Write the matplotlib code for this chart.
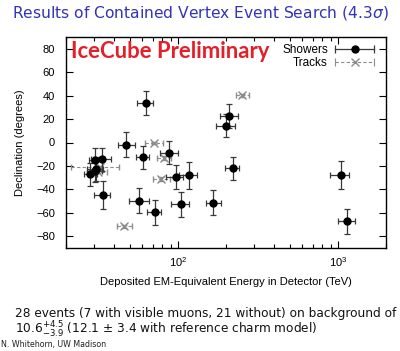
import matplotlib
matplotlib.use("Agg")
import matplotlib.pyplot as plt
from matplotlib.lines import Line2D
from matplotlib.legend_handler import HandlerLine2D, HandlerTuple
from matplotlib.ticker import MultipleLocator

plt.rcParams["font.family"] = ["Liberation Sans", "DejaVu Sans"]
plt.rcParams["mathtext.fontset"] = "dejavusans"

# ---------------------------------------------------------------------------
# Data: deposited energy (TeV) and declination (deg)
# ---------------------------------------------------------------------------
shower_E = [47.6, 117, 165, 28.4, 34.3, 63.2, 97.2, 88.4, 104, 1041, 57.5,
            30.6, 200, 71.5, 1141, 30.2, 220, 30.5, 33.5, 210, 60.2]
shower_E_lo = [5.4, 15, 15, 2.5, 4.3, 8.0, 12.4, 10.7, 13, 144, 7.8,
               3.5, 27, 7.2, 133, 3.3, 24, 2.6, 5.0, 26, 5.6]
shower_E_hi = [6.5, 15, 20, 2.7, 3.5, 7.1, 10.4, 12.5, 13, 132, 8.3,
               3.6, 27, 7.0, 143, 3.5, 21, 3.2, 4.9, 29, 5.6]
shower_dec = [-1.8, -28.0, -51.2, -27.2, -45.1, 33.6, -29.4, -8.9, -52.8, -27.9, -49.7,
              -22.6, 14.5, -59.7, -67.2, -24.0, -22.1, -15.1, -14.5, 22.7, -12.6]
shower_dec_err = [10.5, 11.5, 10.6, 10, 12, 10.5, 10.3, 9.8, 10.9, 12, 10.7,
                  10, 10, 10.7, 10.6, 10, 10, 10, 10, 10.3, 10]

track_E = [78.7, 71.4, 32.6, 253, 31.5, 82.2, 46.1]
track_E_lo = [8.7, 9.0, 11.1, 22, 3.3, 8.4, 4.4]
track_E_hi = [10.8, 9.0, 10.3, 26, 4.6, 8.6, 5.7]
track_dec = [-31.2, -0.4, -21.2, 40.3, -24.8, -13.2, -71.5]
track_dec_err = [1.4, 1.2, 1.3, 1.2, 1.3, 1.9, 1.3]

SHOWER_C = "black"
BAR_C = "#383838"
TRACK_C = "#8c8c8c"

fig = plt.figure(figsize=(4.0, 3.51), dpi=100)
ax = fig.add_axes([66 / 400, 1 - 248 / 351, 320 / 400, 211 / 351])

# tracks (dashed grey)
eb = ax.errorbar(track_E, track_dec,
                 xerr=[track_E_lo, track_E_hi], yerr=track_dec_err,
                 fmt="x", color=TRACK_C, ecolor=TRACK_C, ms=6, mew=1.0,
                 elinewidth=0.8, capsize=2.5, capthick=0.8, zorder=2)
for lc in eb[2]:
    lc.set_linestyle((0, (3, 2)))

# showers
ax.errorbar(shower_E, shower_dec,
            xerr=[shower_E_lo, shower_E_hi], yerr=shower_dec_err,
            fmt="o", color=SHOWER_C, ecolor=BAR_C, ms=5,
            elinewidth=0.9, capsize=2.5, capthick=0.9, zorder=3)

ax.set_xscale("log")
ax.set_xlim(20, 2000)
ax.set_ylim(-90, 90)
ax.yaxis.set_major_locator(MultipleLocator(20))
ax.tick_params(which="both", direction="in", top=True, right=True,
               labelsize=8, width=0.8)
ax.tick_params(which="major", length=5)
ax.tick_params(which="minor", length=3)
ax.tick_params(axis="y", pad=8)
ax.tick_params(axis="x", pad=5)
for s in ax.spines.values():
    s.set_linewidth(1.0)

ax.set_xlabel("Deposited EM-Equivalent Energy in Detector (TeV)", fontsize=8)
ax.set_ylabel("Declination (degrees)", fontsize=8)
ax.xaxis.set_label_coords(0.5, (248 - 282) / 211)
ax.xaxis.label.set_va("center")
ax.yaxis.set_label_coords((20 - 66) / 320, 0.5)
ax.yaxis.label.set_va("center")

prelim = ax.text(0.015, (248 - 52) / 211, "IceCube Preliminary", transform=ax.transAxes,
                 color="#e3202a", fontsize=15, fontweight="bold",
                 family=["Lato", "DejaVu Sans"], va="center", ha="left")

# legend in gnuplot style
sh_bar = Line2D([], [], color=BAR_C, lw=0.9, marker="|", ms=6, mew=0.9)
sh_dot = Line2D([], [], color=SHOWER_C, ls="none", marker="o", ms=5)
tr_bar = Line2D([], [], color=TRACK_C, lw=0.8, ls=(0, (3, 2)), marker="|", ms=6, mew=0.8)
tr_x = Line2D([], [], color=TRACK_C, ls="none", marker="x", ms=6, mew=1.0)
hmap = {tuple: HandlerTuple(ndivide=1),
        sh_bar: HandlerLine2D(numpoints=2, marker_pad=0),
        tr_bar: HandlerLine2D(numpoints=2, marker_pad=0),
        sh_dot: HandlerLine2D(numpoints=1),
        tr_x: HandlerLine2D(numpoints=1)}
ax.legend([(sh_bar, sh_dot), (tr_bar, tr_x)], ["Showers", "Tracks"],
          handler_map=hmap, loc="upper right", frameon=False, markerfirst=False,
          fontsize=8.5, handlelength=3.3, handletextpad=0.6, labelspacing=0.1,
          bbox_to_anchor=(1 - 12 / 320, 1 - 7 / 211), borderaxespad=0, borderpad=0)

# slide texts
title = fig.text(12 / 400, 1 - 13 / 351,
                 r"Results of Contained Vertex Event Search (4.3$\sigma$)",
                 color="#3333b3", fontsize=11, family="DejaVu Sans", va="center", ha="left")
line1 = fig.text(15 / 400, 1 - 313 / 351,
                 "28 events (7 with visible muons, 21 without) on background of",
                 color="#111111", fontsize=8.8, family="DejaVu Sans", va="center", ha="left")
line2 = fig.text(15 / 400, 1 - 330 / 351,
                 r"10.6$^{+4.5}_{-3.9}$ (12.1 $\pm$ 3.4 with reference charm model)",
                 color="#111111", fontsize=8.8, family="DejaVu Sans", va="center", ha="left")
foot = fig.text(1 / 400, 1 - 345 / 351, "N. Whitehorn, UW Madison",
                color="#222222", fontsize=5.5, family="DejaVu Sans", va="center", ha="left")

# scale the free texts to the widths they take in the slide
r = fig.canvas.get_renderer()
for t, px in [(title, 376), (prelim, 199), (line1, 383), (foot, 106)]:
    w = t.get_window_extent(r).width
    t.set_fontsize(t.get_fontsize() * px / w)
line2.set_fontsize(line1.get_fontsize())

fig.savefig("out.png", dpi=100)
